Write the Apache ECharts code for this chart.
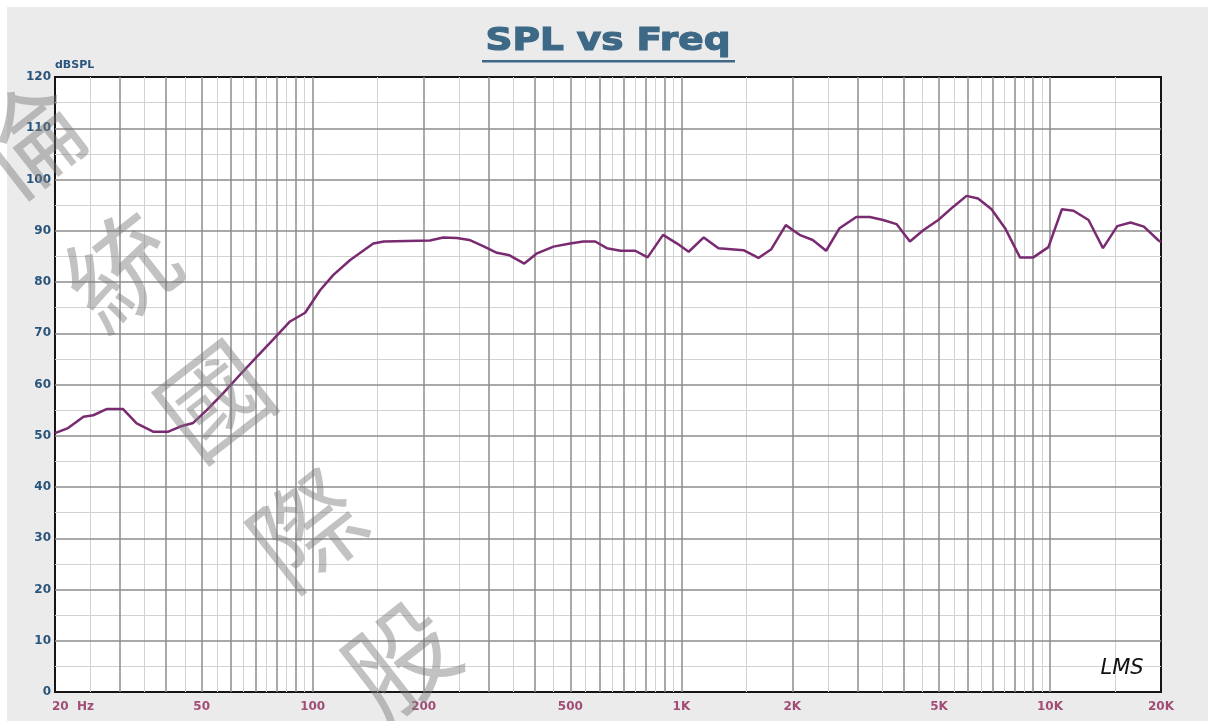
<!DOCTYPE html>
<html>
<head>
<meta charset="utf-8">
<script src="https://cdn.jsdelivr.net/npm/echarts@6/dist/echarts.min.js"></script>
<style>
  html, body { margin: 0; padding: 0; background: #fff; }
  #wrap { position: relative; width: 1208px; height: 721px; }
  #bg { position: absolute; left: 7px; top: 7px; right: 0; bottom: 0; background: #ebebeb; }
  #chart { position: absolute; left: 0; top: 0; width: 1208px; height: 721px; }
</style>
</head>
<body>
<div id="wrap"><div id="bg"></div><div id="chart"></div></div>
<script>
// 频率响应数据 (Hz / dBSPL)
const freqHz = [20, 21.7, 23.9, 25.4, 27.6, 30.6, 33.3, 36.9, 40.6, 43.7, 47.4, 51.6, 57.2, 63.5, 70.5, 78.2, 86.8, 95.4,
  104.7, 113.8, 126.4, 146, 156, 180, 208, 226, 246, 266, 290, 316, 342, 375, 406, 450, 499, 542, 584, 628, 684, 750,
  810, 892, 974, 1047, 1150, 1261, 1474, 1618, 1754, 1920, 2092, 2272, 2470, 2686, 2982, 3244, 3526, 3834, 4168, 4530,
  4976, 5468, 5936, 6380, 6940, 7552, 8288, 9010, 9900, 10770, 11580, 12720, 13920, 15220, 16540, 17970, 19700, 20000];
const splDb = [50.5, 51.5, 53.7, 54, 55.2, 55.2, 52.4, 50.8, 50.8, 51.8, 52.5, 55, 58.3, 61.9, 65.4, 68.8, 72.3, 74,
  78.4, 81.4, 84.3, 87.5, 87.9, 88, 88.1, 88.7, 88.6, 88.2, 87, 85.7, 85.2, 83.6, 85.6, 86.9, 87.5, 87.9, 87.9, 86.6, 86.1, 86.1,
  84.8, 89.2, 87.5, 85.9, 88.7, 86.6, 86.2, 84.7, 86.4, 91.1, 89.2, 88.2, 86.1, 90.5, 92.7, 92.7, 92.1, 91.3, 87.9, 90.1,
  92.1, 94.7, 96.8, 96.3, 94.2, 90.5, 84.8, 84.8, 86.8, 94.2, 93.9, 92.1, 86.6, 90.9, 91.6, 90.8, 88.1, 87.8];

const xTickValues = [20, 50, 100, 200, 500, 1000, 2000, 5000, 10000, 20000];
const xTickLabels = ['20  Hz', '50', '100', '200', '500', '1K', '2K', '5K', '10K', '20K'];
const watermarkChars = ['倫', '統', '國', '際', '股'];

const MAJOR = '#8c8c8c', MINOR = '#d2d2d2';

// 网格线 (对数坐标: 每个十倍频 1..9 为主线, 半步为次线)
var minorLines = [], majorLines = [];
[10, 100, 1000, 10000].forEach(function (dec) {
  for (var n = 1; n <= 9; n++) {
    var m = n * dec, h = (n + 0.5) * dec;
    if (m > 20 && m < 20000) majorLines.push({ xAxis: m, lineStyle: { color: MAJOR, width: 1.5, type: 'solid' } });
    if (h > 20 && h < 20000) minorLines.push({ xAxis: h, lineStyle: { color: MINOR, width: 1, type: 'solid' } });
  }
});
for (var v = 5; v < 120; v += 5) {
  if (v % 10 === 0) majorLines.push({ yAxis: v, lineStyle: { color: MAJOR, width: 1.5, type: 'solid' } });
  else minorLines.push({ yAxis: v, lineStyle: { color: MINOR, width: 1, type: 'solid' } });
}

var chart = echarts.init(document.getElementById('chart'), null, { renderer: 'canvas' });

// 水印
var watermark = watermarkChars.map(function (ch, i) {
  return {
    type: 'text',
    x: 28 + i * 93,
    y: 140 + i * 130,
    rotation: 38 * Math.PI / 180,
    z: 100,
    silent: true,
    style: {
      text: ch,
      fill: 'rgba(120,120,120,0.45)',
      fontFamily: 'Noto Sans CJK TC',
      fontWeight: 'normal',
      fontSize: 108,
      align: 'center',
      verticalAlign: 'middle'
    }
  };
});

var option = {
  animation: false,
  backgroundColor: 'transparent',
  grid: { left: 55, top: 77, right: 47, bottom: 29, show: true, backgroundColor: '#fff', borderColor: '#151515', borderWidth: 2 },
  xAxis: {
    type: 'log', logBase: 10, min: 20, max: 20000,
    axisLine: { show: false }, axisTick: { show: false }, axisLabel: { show: false }, splitLine: { show: false }
  },
  yAxis: {
    type: 'value', min: 0, max: 120, interval: 10,
    axisLine: { show: false }, axisTick: { show: false }, splitLine: { show: false },
    axisLabel: { color: '#29557c', fontFamily: 'DejaVu Sans', fontWeight: 'bold', fontSize: 12, margin: 4 }
  },
  graphic: [
    {
      type: 'text', x: 608, y: 42, scaleX: 1.17, z: 50,
      style: {
        text: 'SPL vs Freq', fill: '#3d6886', stroke: '#3d6886', lineWidth: 1.2,
        fontFamily: 'DejaVu Sans', fontWeight: 'bold', fontSize: 32,
        align: 'center', verticalAlign: 'middle'
      }
    },
    { type: 'rect', shape: { x: 482, y: 60, width: 253, height: 2.5 }, style: { fill: '#3d6886' }, z: 50 },
    {
      type: 'text', x: 55, y: 60, z: 50,
      style: { text: 'dBSPL', fill: '#29557c', fontFamily: 'DejaVu Sans', fontWeight: 'bold', fontSize: 11, align: 'left', verticalAlign: 'top' }
    },
    {
      type: 'text', x: 1122, y: 669, z: 50,
      style: { text: 'LMS', fill: '#111', fontFamily: 'DejaVu Sans', fontStyle: 'italic', fontSize: 21, align: 'center', verticalAlign: 'middle' }
    }
  ].concat(watermark),
  series: [
    {
      type: 'line', data: [], z: 1, silent: true,
      markLine: {
        silent: true, symbol: ['none', 'none'], label: { show: false }, animation: false,
        emphasis: { disabled: true },
        data: minorLines.concat(majorLines)
      }
    },
    {
      type: 'line', z: 5, silent: true, symbol: 'none', smooth: false,
      lineStyle: { color: '#7a2a70', width: 2.5 },
      data: freqHz.map(function (f, i) { return [f, splDb[i]]; })
    },
    {
      type: 'scatter', symbolSize: 0, clip: false, silent: true, z: 6,
      label: {
        show: true, position: 'bottom', distance: 9, formatter: '{b}',
        color: '#8e2456', fontFamily: 'DejaVu Sans', fontWeight: 'bold', fontSize: 12
      },
      data: xTickValues.map(function (f, i) {
        var item = { name: xTickLabels[i], value: [f, 0] };
        if (i === 0) item.label = { align: 'left', offset: [-3, 0] };
        return item;
      })
    }
  ]
};
chart.setOption(option);
</script>
</body>
</html>
